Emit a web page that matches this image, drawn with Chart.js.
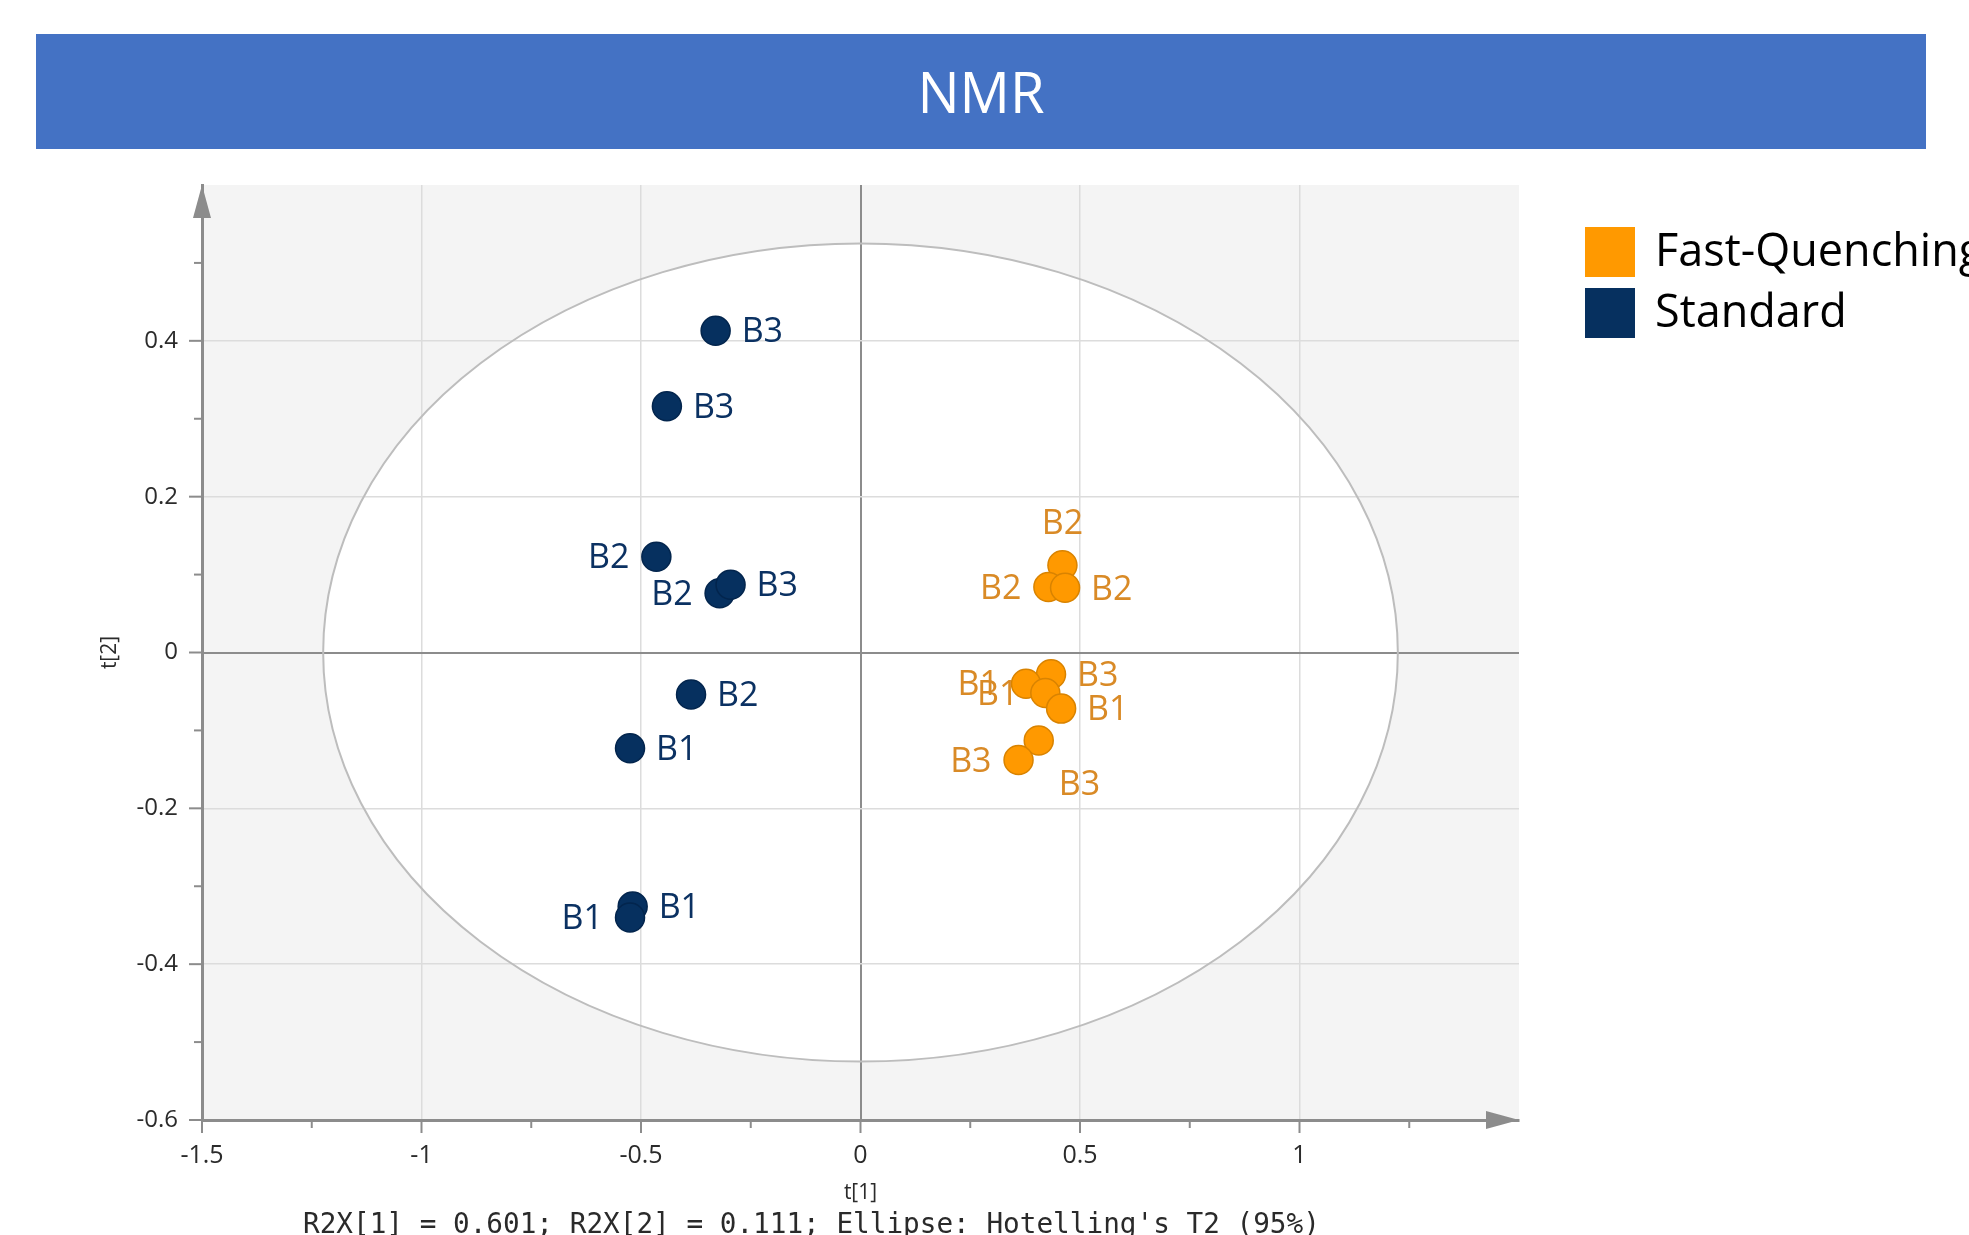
<!DOCTYPE html>
<html>
<head>
<meta charset="utf-8">
<title>NMR</title>
<script src="https://cdn.jsdelivr.net/npm/chart.js@4.4.1/dist/chart.umd.min.js"></script>
<style>
  html, body { margin: 0; padding: 0; background: #fff; }
  body { width: 1969px; height: 1235px; position: relative; overflow: hidden; font-family: 'Open Sans', sans-serif; }
  #chart { position: absolute; left: 0; top: 0; }
  .banner { position: absolute; left: 36px; top: 34px; width: 1890px; height: 115px; background: #4472c4; color: #fff; font-size: 56px; line-height: 115px; text-align: center; }
  .legend { position: absolute; left: 1585px; top: 227px; white-space: nowrap; }
  .legend-row { display: flex; align-items: center; height: 50px; margin-bottom: 11px; }
  .legend-box { width: 50px; height: 50px; margin-right: 20px; flex-shrink: 0; }
  .legend-text { font-size: 45px; color: #000; position: relative; top: -4px; }
  .footnote { position: absolute; left: 303px; top: 1210px; font-family: 'DejaVu Sans Mono', monospace; font-size: 27.7px; line-height: 27px; color: #2a2a2a; white-space: nowrap; }
</style>
</head>
<body>
<canvas id="chart" width="1969" height="1235"></canvas>
<div class="banner">NMR</div>
<div class="legend" id="legend"></div>
<div class="footnote">R2X[1] = 0.601; R2X[2] = 0.111; Ellipse: Hotelling's T2 (95%)</div>

<script>
// --- 1. DATA ---
const seriesNames = ['Fast-Quenching', 'Standard'];

// Fast-Quenching scores
const fqT1 = [0.460, 0.428, 0.466, 0.434, 0.377, 0.421, 0.457, 0.406, 0.360];
const fqT2 = [0.112, 0.084, 0.083, -0.028, -0.040, -0.052, -0.072, -0.113, -0.138];
const fqBatch = ['B2', 'B2', 'B2', 'B3', 'B1', 'B1', 'B1', 'B3', 'B3'];

// Standard scores
const stdT1 = [-0.330, -0.441, -0.465, -0.321, -0.296, -0.386, -0.525, -0.519, -0.525];
const stdT2 = [0.413, 0.316, 0.123, 0.076, 0.087, -0.054, -0.123, -0.326, -0.340];
const stdBatch = ['B3', 'B3', 'B2', 'B2', 'B3', 'B2', 'B1', 'B1', 'B1'];

// axis ticks that carry a label
const xTickLabels = [-1.5, -1, -0.5, 0, 0.5, 1];
const yTickLabels = [-0.6, -0.4, -0.2, 0, 0.2, 0.4];

// Hotelling's T2 ellipse (95%)
const ellipseCenter = [0, 0];
const ellipseRadii = [1.224, 0.525];

// --- 2. STYLE ---
const FONT = "'Open Sans', sans-serif";
const AXIS_GREY = '#8c8c8c';
const GRID_GREY = '#dcdcdc';
const COLORS = {
    fq: { fill: '#ff9900', border: '#d98300', text: '#d98a26' },
    std: { fill: '#06305f', border: '#03254d', text: '#0b3162' }
};
// where each point's label sits: r = right, l = left, t = above, br = below right
const fqLabelSide = ['t', 'l', 'r', 'r', 'l', 'l', 'r', 'br', 'l'];
const stdLabelSide = ['r', 'r', 'l', 'l', 'r', 'r', 'r', 'r', 'l'];

const near = (a, b) => Math.abs(a - b) < 1e-9;
const onStep = (v, step) => near(v / step, Math.round(v / step));

// --- 3. PLUGINS ---
const ellipseBg = {
    id: 'ellipseBg',
    geom(chart) {
        const { x, y } = chart.scales;
        const cx = x.getPixelForValue(ellipseCenter[0]);
        const cy = y.getPixelForValue(ellipseCenter[1]);
        const rx = Math.abs(x.getPixelForValue(ellipseCenter[0] + ellipseRadii[0]) - cx);
        const ry = Math.abs(y.getPixelForValue(ellipseCenter[1] + ellipseRadii[1]) - cy);
        return { cx, cy, rx, ry };
    },
    beforeDraw(chart) {
        const { ctx, chartArea: a } = chart;
        const e = this.geom(chart);
        ctx.save();
        ctx.fillStyle = '#f4f4f4';
        ctx.fillRect(a.left, a.top, a.width, a.height);
        ctx.beginPath();
        ctx.ellipse(e.cx, e.cy, e.rx, e.ry, 0, 0, Math.PI * 2);
        ctx.fillStyle = '#fff';
        ctx.fill();
        ctx.restore();
    },
    beforeDatasetsDraw(chart) {
        const { ctx } = chart;
        const e = this.geom(chart);
        ctx.save();
        ctx.beginPath();
        ctx.ellipse(e.cx, e.cy, e.rx, e.ry, 0, 0, Math.PI * 2);
        ctx.strokeStyle = '#bdbdbd';
        ctx.lineWidth = 2;
        ctx.stroke();
        ctx.restore();
    }
};

// tick marks (major + minor) and the arrow heads
const axisMarks = {
    id: 'axisMarks',
    afterDraw(chart) {
        const { ctx, chartArea: a, scales: { x, y } } = chart;
        ctx.save();
        ctx.strokeStyle = AXIS_GREY;
        ctx.lineWidth = 2;
        x.ticks.forEach(t => {
            if (t.value > x.max - 1e-9) return;
            const px = x.getPixelForValue(t.value);
            const len = onStep(t.value, 0.5) ? 13 : 8;
            ctx.beginPath();
            ctx.moveTo(px, a.bottom);
            ctx.lineTo(px, a.bottom + len);
            ctx.stroke();
        });
        y.ticks.forEach(t => {
            if (t.value > y.max - 1e-9) return;
            const py = y.getPixelForValue(t.value);
            const len = onStep(t.value, 0.2) ? 13 : 8;
            ctx.beginPath();
            ctx.moveTo(a.left, py);
            ctx.lineTo(a.left - len, py);
            ctx.stroke();
        });
        ctx.fillStyle = AXIS_GREY;
        ctx.beginPath();
        ctx.moveTo(a.left, a.top);
        ctx.lineTo(a.left - 9, a.top + 33);
        ctx.lineTo(a.left + 9, a.top + 33);
        ctx.closePath();
        ctx.fill();
        ctx.beginPath();
        ctx.moveTo(a.right, a.bottom);
        ctx.lineTo(a.right - 33, a.bottom - 9);
        ctx.lineTo(a.right - 33, a.bottom + 9);
        ctx.closePath();
        ctx.fill();
        ctx.restore();
    }
};

const pointLabels = {
    id: 'pointLabels',
    afterDatasetsDraw(chart) {
        const { ctx } = chart;
        ctx.save();
        ctx.font = `34px ${FONT}`;
        ctx.textBaseline = 'middle';
        chart.data.datasets.forEach((ds, di) => {
            const meta = chart.getDatasetMeta(di);
            ctx.fillStyle = ds.labelColor;
            meta.data.forEach((pt, i) => {
                const side = ds.labelSide[i];
                const txt = ds.names[i];
                let tx = pt.x, ty = pt.y;
                if (side === 'r') { ctx.textAlign = 'left'; tx += 26; }
                else if (side === 'l') { ctx.textAlign = 'right'; tx -= 27; }
                else if (side === 't') { ctx.textAlign = 'center'; ty -= 43; }
                else { ctx.textAlign = 'left'; tx += 20; ty += 43; }
                ctx.fillText(txt, tx, ty + 2);
            });
        });
        ctx.restore();
    }
};

// --- 4. CHART ---
const toPoints = (xs, ys) => xs.map((v, i) => ({ x: v, y: ys[i] }));

const gridOpts = (major, edges) => ({
    drawTicks: false,
    color: c => {
        const v = c.tick ? c.tick.value : NaN;
        if (edges.some(e => near(e, v))) return 'rgba(0,0,0,0)';
        if (near(v, 0)) return AXIS_GREY;
        return onStep(v, major) ? GRID_GREY : 'rgba(0,0,0,0)';
    },
    lineWidth: c => (c.tick && near(c.tick.value, 0) ? 2 : 1.5)
});

const chart = new Chart(document.getElementById('chart'), {
    type: 'scatter',
    data: {
        datasets: [
            {
                label: seriesNames[0],
                data: toPoints(fqT1, fqT2),
                names: fqBatch,
                labelSide: fqLabelSide,
                labelColor: COLORS.fq.text,
                backgroundColor: COLORS.fq.fill,
                borderColor: COLORS.fq.border,
                borderWidth: 1.5,
                pointRadius: 14.5
            },
            {
                label: seriesNames[1],
                data: toPoints(stdT1, stdT2),
                names: stdBatch,
                labelSide: stdLabelSide,
                labelColor: COLORS.std.text,
                backgroundColor: COLORS.std.fill,
                borderColor: COLORS.std.border,
                borderWidth: 1.5,
                pointRadius: 14.5
            }
        ]
    },
    options: {
        responsive: false,
        animation: false,
        layout: { padding: { left: 0, right: 450, top: 185, bottom: 0 } },
        plugins: {
            legend: { display: false },
            tooltip: { enabled: false }
        },
        scales: {
            x: {
                type: 'linear',
                min: -1.5,
                max: 1.5,
                afterFit(s) { s.height = 115; },
                border: { color: AXIS_GREY, width: 3 },
                grid: gridOpts(0.5, [-1.5, 1.5]),
                ticks: {
                    stepSize: 0.25,
                    autoSkip: false,
                    maxRotation: 0,
                    padding: 21,
                    color: '#2b2b2b',
                    font: { family: FONT, size: 25 },
                    callback: v => (xTickLabels.some(t => near(t, v)) ? String(+v.toFixed(2)) : '')
                },
                title: {
                    display: true,
                    text: 't[1]',
                    color: '#2b2b2b',
                    font: { family: FONT, size: 21 },
                    padding: { top: 0, bottom: 29 }
                }
            },
            y: {
                type: 'linear',
                min: -0.6,
                max: 0.6,
                afterFit(s) { s.width = 202; },
                border: { color: AXIS_GREY, width: 3 },
                grid: gridOpts(0.2, [-0.6, 0.6]),
                ticks: {
                    stepSize: 0.1,
                    autoSkip: false,
                    padding: 24,
                    color: '#2b2b2b',
                    font: { family: FONT, size: 24 },
                    callback: v => (yTickLabels.some(t => near(t, v)) ? String(+v.toFixed(2)) : '')
                },
                title: {
                    display: true,
                    text: 't[2]',
                    color: '#2b2b2b',
                    font: { family: FONT, size: 21 },
                    padding: { top: 97, bottom: 0 }
                }
            }
        }
    },
    plugins: [ellipseBg, axisMarks, pointLabels]
});

// --- 5. LEGEND (built from the datasets) ---
document.getElementById('legend').innerHTML = chart.data.datasets.map(ds => `
    <div class="legend-row">
        <div class="legend-box" style="background:${ds.backgroundColor}"></div>
        <span class="legend-text">${ds.label}</span>
    </div>
`).join('');
</script>
</body>
</html>
